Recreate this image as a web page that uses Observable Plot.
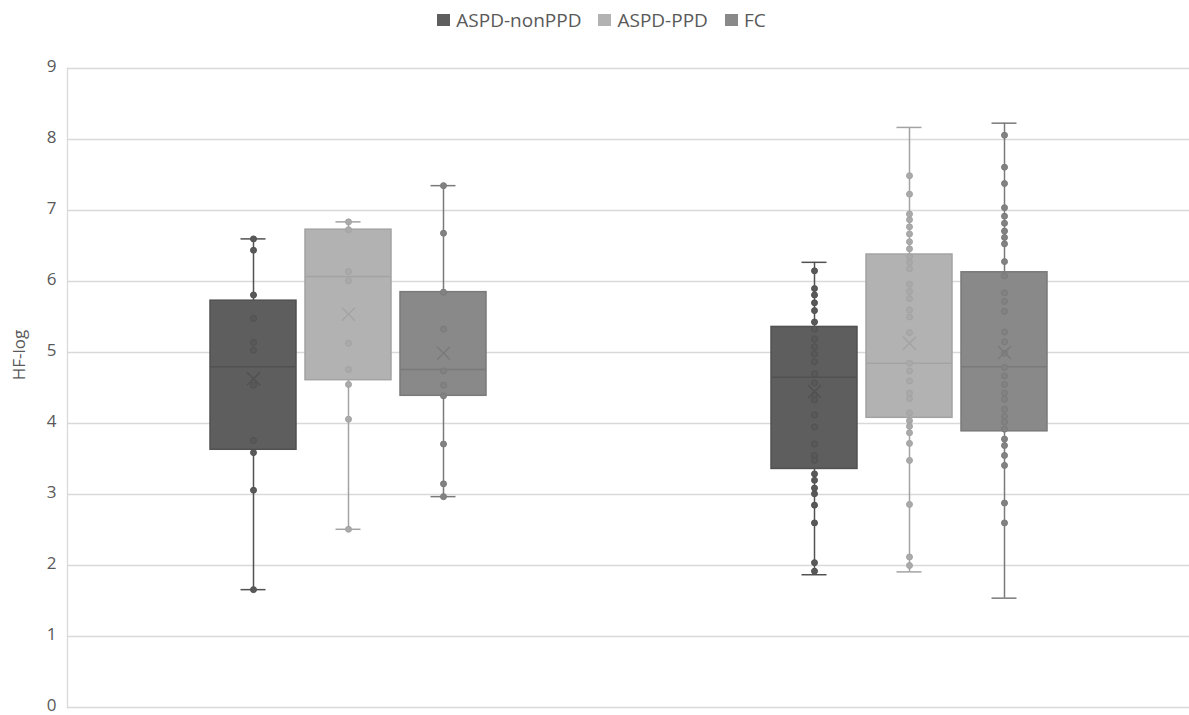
<!DOCTYPE html>
<html><head><meta charset="utf-8">
<script src="https://cdn.jsdelivr.net/npm/d3@7"></script>
<script src="https://cdn.jsdelivr.net/npm/@observablehq/plot@0.6"></script>
<style>
body{margin:0;background:#fff;font-family:"Open Sans",sans-serif;}
#legend{height:40px;display:flex;justify-content:center;align-items:center;gap:17px;padding-left:14px;box-sizing:border-box;font-size:19px;color:#595959;}
.item{display:flex;align-items:center;gap:6px;}
.sw{width:13px;height:12px;display:inline-block;}
</style></head><body>
<div id="legend"></div><div id="chart"></div>
<script>
// ---- data ----
const categories = ["T1", "T2"];
const series = ["ASPD-nonPPD", "ASPD-PPD", "FC"];
const yTicks = [0, 1, 2, 3, 4, 5, 6, 7, 8, 9];
const yLabel = "HF-log";

// individual observations, per category (T1, T2) and series
const pointsT1nonPPD = [6.60, 6.44, 5.81, 5.48, 5.14, 5.03, 4.54, 3.76, 3.59, 3.06, 1.66];
const pointsT1PPD = [6.84, 6.73, 6.14, 6.01, 5.13, 4.76, 4.55, 4.06, 2.51];
const pointsT1FC = [7.35, 6.68, 5.85, 5.33, 4.74, 4.54, 4.39, 3.71, 3.15, 2.97];
const pointsT2nonPPD = [6.15, 5.90, 5.81, 5.70, 5.59, 5.43, 5.33, 5.19, 5.08, 4.98, 4.87, 4.70, 4.57, 4.40, 4.33, 4.12, 3.95, 3.71, 3.55, 3.48, 3.29, 3.20, 3.09, 3.01, 2.85, 2.60, 2.04, 1.92];
const pointsT2PPD = [7.49, 7.23, 6.95, 6.87, 6.77, 6.67, 6.56, 6.46, 6.35, 6.27, 6.18, 5.96, 5.86, 5.76, 5.60, 5.50, 5.28, 4.85, 4.74, 4.60, 4.43, 4.35, 4.15, 4.04, 3.96, 3.87, 3.72, 3.48, 2.86, 2.12, 2.00];
const pointsT2FC = [8.06, 7.61, 7.38, 7.04, 6.92, 6.82, 6.71, 6.62, 6.53, 6.28, 6.08, 5.84, 5.72, 5.58, 5.29, 5.15, 4.99, 4.79, 4.67, 4.55, 4.43, 4.34, 4.20, 4.10, 4.02, 3.92, 3.78, 3.69, 3.55, 3.41, 2.88, 2.60];

// box statistics: rows = categories, columns = series
const whiskerLow = [[1.66, 2.51, 2.97], [1.87, 1.91, 1.54]];
const quartile1 = [[3.63, 4.61, 4.39], [3.36, 4.08, 3.89]];
const medians   = [[4.80, 6.07, 4.76], [4.65, 4.85, 4.80]];
const quartile3 = [[5.73, 6.73, 5.85], [5.36, 6.38, 6.13]];
const whiskerHigh = [[6.60, 6.84, 7.35], [6.27, 8.17, 8.23]];
const means     = [[4.63, 5.54, 4.99], [4.45, 5.13, 5.00]];

// ---- styles ----
const fills   = ["#5e5e5e", "#b2b2b2", "#898989"];
const strokes = ["#515151", "#a3a3a3", "#7a7a7a"];
const dotFill = ["#595959", "#aaaaaa", "#828282"];

// ---- build tables ----
const pointSets = [[pointsT1nonPPD, pointsT1PPD, pointsT1FC], [pointsT2nonPPD, pointsT2PPD, pointsT2FC]];
const boxes = [], points = [];
categories.forEach((cat, ci) => series.forEach((s, si) => {
  boxes.push({cat, series: s, si, lo: whiskerLow[ci][si], q1: quartile1[ci][si], med: medians[ci][si],
              q3: quartile3[ci][si], hi: whiskerHigh[ci][si], mean: means[ci][si]});
  pointSets[ci][si].forEach(v => points.push({cat, series: s, si, v}));
}));

// ---- legend ----
const lg = document.getElementById("legend");
series.forEach((s, i) => {
  const it = document.createElement("div"); it.className = "item";
  it.innerHTML = `<span class="sw" style="background:${fills[i]}"></span><span>${s}</span>`;
  lg.appendChild(it);
});

const chart = Plot.plot({
  width: 1189, height: 675,
  marginLeft: 67, marginRight: 0, marginTop: 28, marginBottom: 8,
  style: {fontFamily: "Open Sans, sans-serif", fontSize: "17px", color: "#595959", background: "#fff", overflow: "visible"},
  fx: {domain: categories, padding: 0, axis: null},
  x: {domain: series, paddingInner: 0.0995, paddingOuter: 1.487, axis: null},
  y: {domain: [0, 9]},
  marks: [
    Plot.gridY(yTicks, {stroke: "#d9d9d9", strokeOpacity: 1, strokeWidth: 1.3}),
    Plot.frame({anchor: "left", stroke: "#d9d9d9", strokeWidth: 1.3, facet: "super"}),
    Plot.axisY(yTicks, {tickSize: 0, tickPadding: 11, fill: "#595959", tickFormat: d3.format("d"),
      label: null, fontSize: 17, dy: -2}),
    Plot.text([yLabel], {text: d => d, frameAnchor: "left", textAnchor: "middle", rotate: -90, dx: -48, dy: -33,
      fill: "#595959", fontSize: 17, facet: "super"}),
    // whiskers
    Plot.ruleX(boxes, {fx: "cat", x: "series", y1: "q3", y2: "hi", stroke: d => strokes[d.si], strokeWidth: 1.5}),
    Plot.ruleX(boxes, {fx: "cat", x: "series", y1: "lo", y2: "q1", stroke: d => strokes[d.si], strokeWidth: 1.5}),
    // caps
    Plot.tickY(boxes, {fx: "cat", x: "series", y: "hi", stroke: d => strokes[d.si], strokeWidth: 1.5, insetLeft: 30.5, insetRight: 30.5}),
    Plot.tickY(boxes, {fx: "cat", x: "series", y: "lo", stroke: d => strokes[d.si], strokeWidth: 1.5, insetLeft: 30.5, insetRight: 30.5}),
    // box
    Plot.barY(boxes, {fx: "cat", x: "series", y1: "q1", y2: "q3", fill: d => fills[d.si], stroke: d => strokes[d.si], strokeWidth: 1.5}),
    // median
    Plot.tickY(boxes, {fx: "cat", x: "series", y: "med", stroke: d => strokes[d.si], strokeWidth: 1.5}),
    // observations
    Plot.dot(points, {fx: "cat", x: "series", y: "v", r: 3, fill: d => dotFill[d.si], stroke: d => strokes[d.si], strokeWidth: 1}),
    // mean
    Plot.dot(boxes, {fx: "cat", x: "series", y: "mean", symbol: "times", r: 6, stroke: d => strokes[d.si], strokeWidth: 1.4})
  ]
});
document.getElementById("chart").appendChild(chart);
</script>
</body></html>
